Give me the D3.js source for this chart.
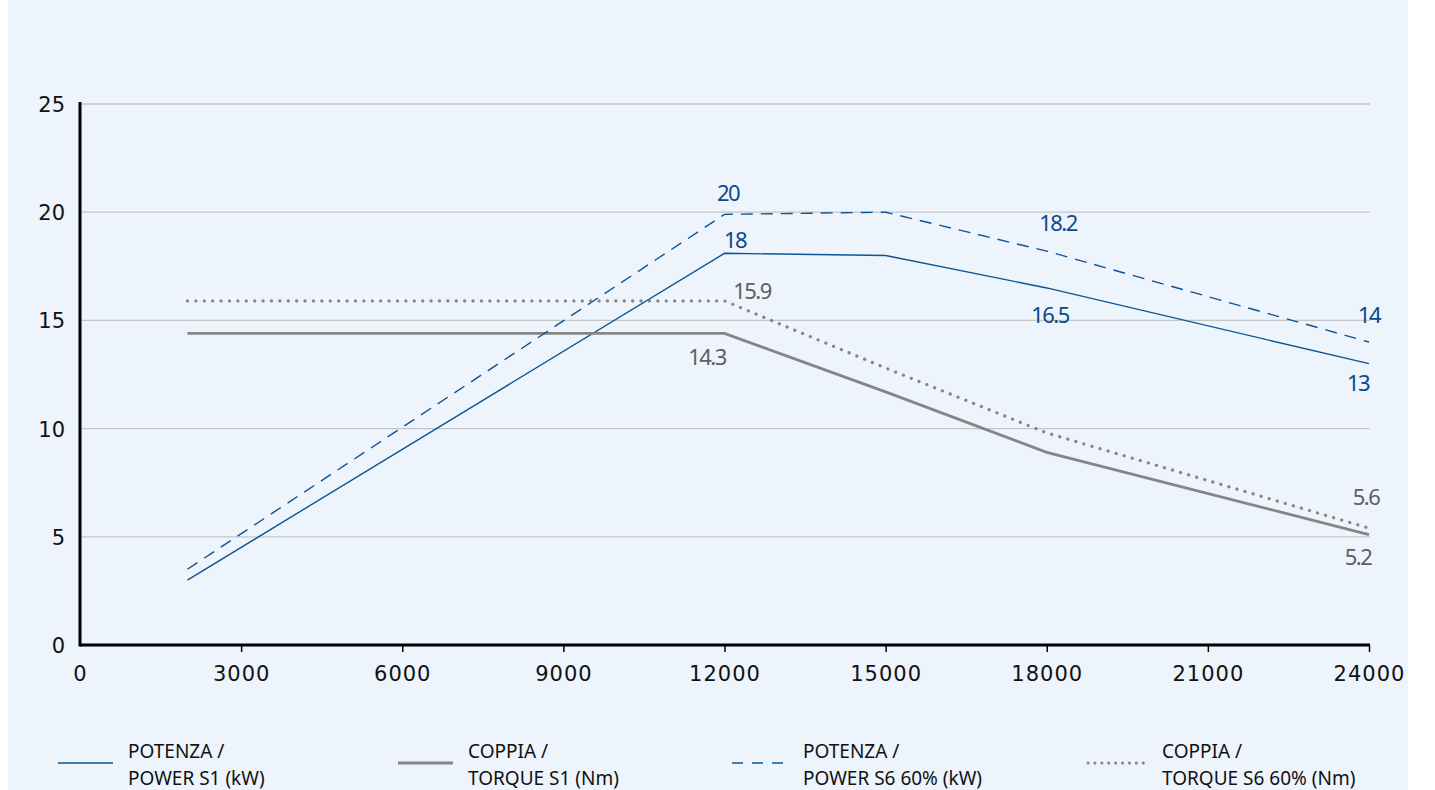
<!DOCTYPE html>
<html><head><meta charset="utf-8">
<script src="https://cdn.jsdelivr.net/npm/d3@7"></script>
<style>
html,body{margin:0;padding:0;background:#fff;}
svg{display:block;font-family:"Noto Sans",Lato,sans-serif;}
</style></head>
<body><svg id="c" width="1435" height="790"></svg>
<script>
const rpm = [2000, 12000, 15000, 18000, 24000];
const powerS1 = [3, 18.1, 18, 16.5, 13];
const powerS6 = [3.5, 19.9, 20, 18.2, 14];
const torqueS1 = [14.4, 14.4, 11.7, 8.9, 5.1];
const torqueS6 = [15.9, 15.9, 12.8, 9.8, 5.4];
const xTicks = [0, 3000, 6000, 9000, 12000, 15000, 18000, 21000, 24000];
const yTicks = [0, 5, 10, 15, 20, 25];
const seriesNames = [["POTENZA /","POWER S1 (kW)"],["COPPIA /","TORQUE S1 (Nm)"],["POTENZA /","POWER S6 60% (kW)"],["COPPIA /","TORQUE S6 60% (Nm)"]];
// labels: [series index, point index, text]
const labels = [
  [2,1,"20"],[0,1,"18"],[3,1,"15.9"],[1,1,"14.3"],
  [2,3,"18.2"],[0,3,"16.5"],[2,4,"14"],[0,4,"13"],[3,4,"5.6"],[1,4,"5.2"]
];

const BLUE="#0d5494", GRAY="#858585";
const series=[
  {v:powerS1,color:BLUE,w:1.4,dash:null},
  {v:torqueS1,color:GRAY,w:2.8,dash:null},
  {v:powerS6,color:BLUE,w:1.4,dash:"12,8"},
  {v:torqueS6,color:GRAY,w:3.2,dash:"0.1,8.3",cap:"round"}
];

const svg=d3.select("#c");
svg.append("rect").attr("x",8).attr("y",0).attr("width",1400).attr("height",790).attr("fill","#edf4fc");

const x=d3.scaleLinear().domain([0,24000]).range([80,1369]);
const y=d3.scaleLinear().domain([0,25]).range([645,104]);

// grid
svg.append("g").selectAll("line").data(yTicks.filter(d=>d>0)).join("line")
  .attr("x1",80).attr("x2",1370).attr("y1",d=>y(d)).attr("y2",d=>y(d))
  .attr("stroke","#c3c6c9").attr("stroke-width",1.3);

// axes
const xa=svg.append("g").attr("transform","translate(0,"+y(0)+")")
  .call(d3.axisBottom(x).tickValues(xTicks).tickSize(7).tickPadding(0).tickFormat(d=>d));
xa.select(".domain").attr("stroke","#000").attr("stroke-width",3).attr("d","M80,0H1370");
xa.selectAll(".tick line").attr("stroke","#000").attr("stroke-width",1.5).attr("y1",0);
xa.selectAll(".tick").filter(d=>d===0).select("line").remove();
xa.selectAll("text").attr("font-size",21).attr("fill","#111").attr("font-family","'DejaVu Sans',sans-serif")
  .attr("letter-spacing","1px").attr("dy",null).attr("y",36);

const ya=svg.append("g").attr("transform","translate(80,0)")
  .call(d3.axisLeft(y).tickValues(yTicks).tickSize(0).tickPadding(15));
ya.select(".domain").attr("stroke","#000").attr("stroke-width",3).attr("d","M0,102V646.5");
ya.selectAll("text").attr("font-size",21).attr("fill","#111").attr("font-family","'DejaVu Sans',sans-serif")
  .attr("dy","0.36em");

// lines
const line=d3.line().x((d,i)=>x(rpm[i])).y(d=>y(d));
series.forEach(s=>{
  svg.append("path").datum(s.v).attr("d",line).attr("fill","none")
    .attr("stroke",s.color).attr("stroke-width",s.w)
    .attr("stroke-dasharray",s.dash).attr("stroke-linecap",s.cap||"butt");
});

// labels (offsets relative to the data point)
const lblPos={ "20":[728,193],"18":[735,240],"15.9":[752,291],"14.3":[707,357],"18.2":[1058,223],"16.5":[1050,315],"14":[1369,315],"13":[1358,383],"5.6":[1366,497],"5.2":[1358,557]};
labels.forEach(([si,pi,t])=>{
  const s=series[si];
  const px=x(rpm[pi]), py=y(s.v[pi]);
  const p=lblPos[t];
  svg.append("text").attr("x",px+(p[0]-px)).attr("y",py+(p[1]-py)+8)
    .attr("text-anchor","middle").attr("font-size",22).attr("letter-spacing","-1.5px")
    .attr("fill",s.color===BLUE?"#0a4a88":"#5f5f5f").text(t);
});

// legend
const lx=[58,398,732,1088], tx=[128,468,803,1162];
series.forEach((s,i)=>{
  svg.append("line").attr("x1",lx[i]).attr("x2",lx[i]+(i===3?60:55)).attr("y1",763).attr("y2",763)
    .attr("stroke",s.color).attr("stroke-width",i===1?2.8:(i===3?3:1.4))
    .attr("stroke-dasharray",i===2?"11,9":(i===3?"0.1,6.8":null)).attr("stroke-linecap",s.cap||"butt");
  const t=svg.append("text").attr("x",tx[i]).attr("y",758).attr("font-size",19).attr("fill","#111");
  t.append("tspan").attr("x",tx[i]).text(seriesNames[i][0]);
  t.append("tspan").attr("x",tx[i]).attr("dy",27).text(seriesNames[i][1]);
});
</script></body></html>
